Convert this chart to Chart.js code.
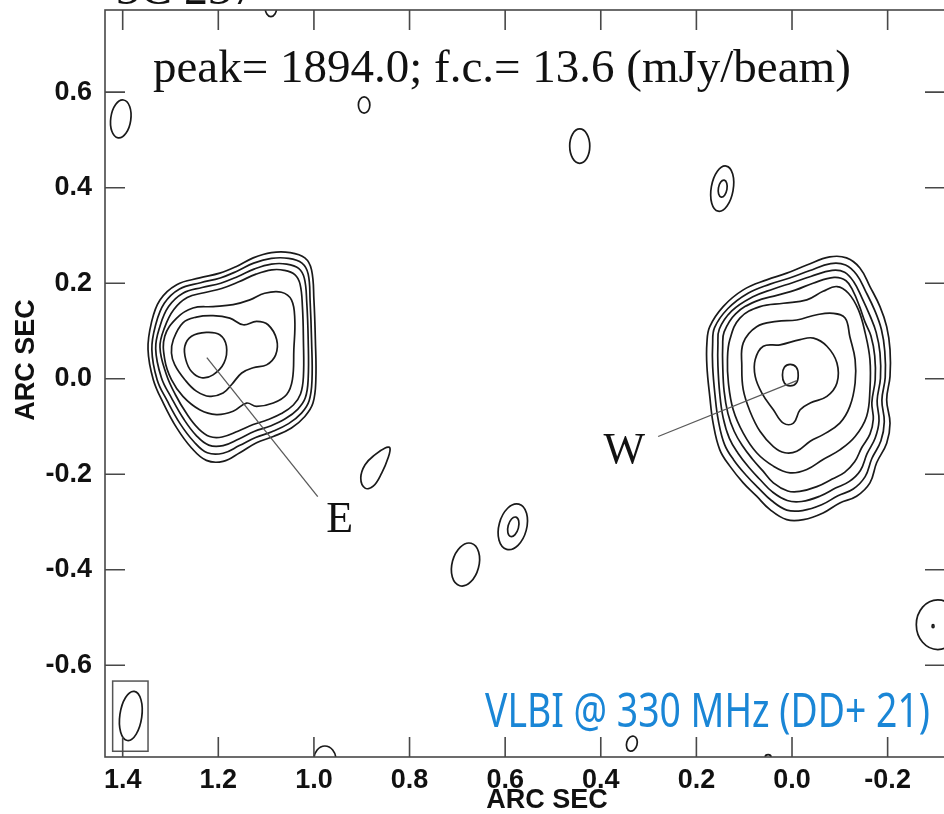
<!DOCTYPE html>
<html>
<head>
<meta charset="utf-8">
<script src="https://cdn.jsdelivr.net/npm/chart.js@4.4.1/dist/chart.umd.min.js"></script>
<style>
html, body { margin: 0; padding: 0; background: #fff; }
#wrap { width: 944px; height: 814px; overflow: hidden; }
canvas { display: block; }
</style>
</head>
<body>
<div id="wrap"><canvas id="map" width="950" height="814"></canvas></div>
<script>
// axis ranges and ticks (arc sec), RA runs right to left
const xRange = [-0.320, 1.437];
const yRange = [-0.792, 0.772];
const xTicks = [1.4, 1.2, 1.0, 0.8, 0.6, 0.4, 0.2, 0.0, -0.2];
const yTicks = [0.6, 0.4, 0.2, 0.0, -0.2, -0.4, -0.6];

// east lobe contours, lowest level first
const east1 = [[1.347,0.061],[1.340,0.117],[1.322,0.165],[1.287,0.197],[1.239,0.211],[1.197,0.221],[1.162,0.235],[1.127,0.253],[1.089,0.264],[1.050,0.264],[1.019,0.253],[1.005,0.228],[1.000,0.165],[0.997,0.082],[0.996,-0.002],[1.002,-0.051],[1.019,-0.079],[1.047,-0.103],[1.085,-0.121],[1.120,-0.134],[1.155,-0.155],[1.190,-0.173],[1.225,-0.171],[1.256,-0.145],[1.287,-0.103],[1.315,-0.051],[1.336,-0.002]];
const east2 = [[1.339,0.061],[1.331,0.113],[1.313,0.158],[1.281,0.188],[1.237,0.201],[1.196,0.211],[1.161,0.225],[1.126,0.242],[1.089,0.252],[1.053,0.252],[1.025,0.242],[1.012,0.219],[1.008,0.163],[1.005,0.082],[1.004,-0.002],[1.010,-0.046],[1.026,-0.072],[1.053,-0.094],[1.088,-0.111],[1.122,-0.123],[1.156,-0.140],[1.190,-0.156],[1.223,-0.155],[1.251,-0.132],[1.280,-0.094],[1.307,-0.046],[1.328,-0.002]];
const east3 = [[1.331,0.063],[1.322,0.110],[1.304,0.151],[1.274,0.179],[1.234,0.191],[1.195,0.200],[1.159,0.214],[1.124,0.230],[1.089,0.240],[1.057,0.240],[1.032,0.231],[1.020,0.210],[1.015,0.160],[1.012,0.082],[1.012,0.000],[1.018,-0.040],[1.034,-0.064],[1.060,-0.084],[1.091,-0.099],[1.124,-0.110],[1.157,-0.126],[1.190,-0.140],[1.220,-0.139],[1.246,-0.119],[1.272,-0.085],[1.298,-0.040],[1.319,0.002]];
const east4 = [[1.322,0.066],[1.312,0.108],[1.293,0.145],[1.265,0.170],[1.230,0.180],[1.193,0.189],[1.157,0.203],[1.121,0.219],[1.088,0.228],[1.062,0.227],[1.040,0.218],[1.029,0.198],[1.024,0.150],[1.022,0.082],[1.022,0.004],[1.028,-0.032],[1.043,-0.055],[1.068,-0.073],[1.097,-0.086],[1.127,-0.096],[1.159,-0.110],[1.192,-0.122],[1.218,-0.121],[1.242,-0.104],[1.265,-0.075],[1.290,-0.033],[1.309,0.010]];
const east5 = [[1.312,0.089],[1.287,0.127],[1.253,0.148],[1.211,0.151],[1.169,0.155],[1.134,0.165],[1.103,0.179],[1.068,0.181],[1.047,0.165],[1.040,0.124],[1.042,0.061],[1.045,-0.002],[1.057,-0.033],[1.085,-0.051],[1.120,-0.058],[1.141,-0.051],[1.169,-0.068],[1.204,-0.075],[1.239,-0.065],[1.274,-0.037],[1.298,-0.002],[1.312,0.040]];
const east6 = [[1.294,0.082],[1.274,0.117],[1.246,0.129],[1.211,0.132],[1.176,0.127],[1.148,0.113],[1.120,0.120],[1.096,0.113],[1.078,0.082],[1.080,0.050],[1.099,0.029],[1.127,0.023],[1.151,0.012],[1.172,-0.012],[1.190,-0.030],[1.218,-0.037],[1.246,-0.026],[1.270,-0.002],[1.291,0.029],[1.298,0.054]];
const east7 = [[1.270,0.068],[1.256,0.089],[1.225,0.097],[1.197,0.092],[1.183,0.068],[1.188,0.033],[1.211,0.008],[1.235,0.002],[1.256,0.015],[1.268,0.040]];

// west lobe contours, lowest level first
const west1 = [[0.172,0.109],[0.144,0.151],[0.102,0.186],[0.053,0.207],[0.011,0.221],[-0.031,0.238],[-0.079,0.255],[-0.114,0.253],[-0.142,0.232],[-0.163,0.193],[-0.184,0.151],[-0.198,0.109],[-0.205,0.061],[-0.205,0.005],[-0.198,-0.044],[-0.205,-0.093],[-0.198,-0.135],[-0.177,-0.176],[-0.163,-0.218],[-0.135,-0.246],[-0.100,-0.260],[-0.065,-0.281],[-0.024,-0.295],[0.011,-0.295],[0.046,-0.274],[0.074,-0.246],[0.102,-0.218],[0.130,-0.183],[0.151,-0.149],[0.165,-0.093],[0.172,-0.037],[0.178,0.026],[0.178,0.075]];
const west2 = [[0.162,0.107],[0.134,0.147],[0.092,0.179],[0.046,0.198],[0.005,0.211],[-0.036,0.226],[-0.081,0.241],[-0.112,0.238],[-0.135,0.218],[-0.154,0.183],[-0.173,0.143],[-0.187,0.103],[-0.194,0.058],[-0.195,0.003],[-0.188,-0.045],[-0.193,-0.090],[-0.186,-0.130],[-0.167,-0.167],[-0.153,-0.205],[-0.128,-0.231],[-0.096,-0.245],[-0.062,-0.264],[-0.022,-0.276],[0.011,-0.275],[0.043,-0.255],[0.070,-0.229],[0.096,-0.202],[0.122,-0.170],[0.141,-0.138],[0.154,-0.088],[0.161,-0.035],[0.166,0.026],[0.166,0.073]];
const west3 = [[0.152,0.104],[0.126,0.142],[0.083,0.171],[0.039,0.188],[-0.001,0.201],[-0.039,0.214],[-0.084,0.227],[-0.110,0.223],[-0.129,0.203],[-0.146,0.170],[-0.163,0.132],[-0.176,0.097],[-0.184,0.054],[-0.185,0.001],[-0.178,-0.046],[-0.182,-0.088],[-0.174,-0.124],[-0.157,-0.157],[-0.143,-0.192],[-0.120,-0.215],[-0.091,-0.229],[-0.058,-0.246],[-0.020,-0.257],[0.010,-0.255],[0.041,-0.237],[0.066,-0.212],[0.090,-0.186],[0.113,-0.156],[0.131,-0.125],[0.144,-0.082],[0.151,-0.033],[0.155,0.028],[0.155,0.071]];
const west4 = [[0.142,0.098],[0.118,0.136],[0.076,0.162],[0.030,0.175],[-0.008,0.186],[-0.044,0.200],[-0.088,0.212],[-0.113,0.205],[-0.128,0.183],[-0.141,0.152],[-0.153,0.118],[-0.165,0.090],[-0.173,0.048],[-0.174,-0.002],[-0.167,-0.050],[-0.170,-0.085],[-0.163,-0.116],[-0.146,-0.144],[-0.131,-0.174],[-0.110,-0.196],[-0.084,-0.210],[-0.052,-0.226],[-0.016,-0.236],[0.009,-0.235],[0.039,-0.218],[0.061,-0.193],[0.083,-0.168],[0.104,-0.140],[0.121,-0.110],[0.134,-0.073],[0.142,-0.026],[0.145,0.030],[0.145,0.068]];
const west5 = [[0.130,0.082],[0.109,0.127],[0.067,0.151],[0.018,0.158],[-0.031,0.165],[-0.065,0.183],[-0.094,0.193],[-0.118,0.179],[-0.139,0.144],[-0.153,0.096],[-0.163,0.040],[-0.163,-0.023],[-0.156,-0.079],[-0.132,-0.121],[-0.100,-0.149],[-0.065,-0.169],[-0.031,-0.190],[0.004,-0.197],[0.039,-0.183],[0.074,-0.155],[0.102,-0.114],[0.123,-0.065],[0.133,-0.009],[0.135,0.040]];
const west6 = [[0.102,0.075],[0.074,0.109],[0.032,0.120],[-0.010,0.123],[-0.052,0.134],[-0.086,0.137],[-0.111,0.127],[-0.121,0.088],[-0.132,0.040],[-0.132,-0.009],[-0.121,-0.058],[-0.100,-0.093],[-0.065,-0.117],[-0.038,-0.131],[-0.010,-0.152],[0.015,-0.155],[0.039,-0.142],[0.067,-0.110],[0.088,-0.068],[0.102,-0.023],[0.105,0.026]];
const west7 = [[0.077,0.040],[0.060,0.068],[0.025,0.071],[-0.017,0.082],[-0.045,0.085],[-0.073,0.068],[-0.094,0.033],[-0.094,-0.009],[-0.073,-0.037],[-0.038,-0.051],[-0.017,-0.065],[-0.003,-0.093],[0.018,-0.093],[0.039,-0.065],[0.063,-0.030],[0.077,0.005]];
const west8 = [[0.020,0.008],[0.016,0.024],[0.004,0.030],[-0.009,0.024],[-0.013,0.008],[-0.009,-0.009],[0.004,-0.015],[0.016,-0.009]];

// small teardrop between the lobes
const knot = [[0.841,-0.145],[0.845,-0.166],[0.858,-0.197],[0.876,-0.225],[0.893,-0.229],[0.902,-0.208],[0.893,-0.180],[0.872,-0.159],[0.851,-0.145]];

// isolated compact contours: [x, y, half width, half height, tilt deg]
const blobs = [
    [1.404, 0.544, 0.021, 0.040, 8],
    [0.895, 0.573, 0.012, 0.017, 0],
    [0.444, 0.487, 0.021, 0.036, 0],
    [0.146, 0.398, 0.023, 0.048, 10],
    [0.145, 0.398, 0.009, 0.018, 10],
    [1.090, 0.777, 0.012, 0.019, 0],
    [0.584, -0.310, 0.029, 0.049, 15],
    [0.583, -0.310, 0.011, 0.021, 15],
    [0.683, -0.389, 0.028, 0.046, 15],
    [-0.305, -0.515, 0.045, 0.052, 0],
    [-0.295, -0.518, 0.002, 0.003, 0],
    [0.977, -0.797, 0.023, 0.028, 0],
    [0.335, -0.764, 0.011, 0.016, 15],
    [0.050, -0.792, 0.006, 0.005, 0]
];
const beam = [1.383, -0.706, 0.023, 0.052, 8];
const beamBox = [1.421, -0.633, 1.347, -0.780];

// labels and pointers
const pointerE = [[1.224, 0.044], [0.992, -0.247]];
const pointerW = [[0.280, -0.121], [-0.010, -0.004]];

const contours = [east1, east2, east3, east4, east5, east6, east7,
    west1, west2, west3, west4, west5, west6, west7, west8, knot];

function ellipse(ctx, x, y, b) {
    const cx = x.getPixelForValue(b[0]);
    const cy = y.getPixelForValue(b[1]);
    const rx = Math.abs(x.getPixelForValue(b[0] + b[2]) - cx);
    const ry = Math.abs(y.getPixelForValue(b[1] + b[3]) - cy);
    ctx.beginPath();
    ctx.ellipse(cx, cy, rx, ry, b[4] * Math.PI / 180, 0, Math.PI * 2);
    ctx.stroke();
}

// make every contour a closed smooth loop
const closeLoops = {
    id: 'closeLoops',
    afterDatasetsUpdate(chart) {
        chart.data.datasets.forEach((ds, i) => {
            const line = chart.getDatasetMeta(i).dataset;
            if (!line) return;
            line._loop = true;
            line._fullLoop = true;
            line._pointsUpdated = false;
            line._segments = undefined;
            line._path = undefined;
            line.updateControlPoints(chart.chartArea, 'x');
        });
    }
};

const extras = {
    id: 'extras',
    afterDatasetsDraw(chart) {
        const {ctx, chartArea: a, scales: {x, y}} = chart;
        ctx.save();
        ctx.beginPath();
        ctx.rect(a.left, a.top, a.right - a.left, a.bottom - a.top);
        ctx.clip();
        ctx.strokeStyle = '#1a1a1a';
        ctx.lineWidth = 1.7;
        blobs.forEach(b => ellipse(ctx, x, y, b));
        ellipse(ctx, x, y, beam);

        ctx.strokeStyle = '#555';
        ctx.lineWidth = 1.5;
        const bx = x.getPixelForValue(beamBox[0]);
        const by = y.getPixelForValue(beamBox[1]);
        ctx.strokeRect(bx, by, x.getPixelForValue(beamBox[2]) - bx, y.getPixelForValue(beamBox[3]) - by);

        ctx.strokeStyle = '#5a5a5a';
        ctx.lineWidth = 1.3;
        [pointerE, pointerW].forEach(p => {
            ctx.beginPath();
            ctx.moveTo(x.getPixelForValue(p[0][0]), y.getPixelForValue(p[0][1]));
            ctx.lineTo(x.getPixelForValue(p[1][0]), y.getPixelForValue(p[1][1]));
            ctx.stroke();
        });
        ctx.restore();

        // frame with inward ticks on all four sides
        ctx.save();
        ctx.strokeStyle = '#484848';
        ctx.lineWidth = 1.6;
        ctx.strokeRect(a.left, a.top, a.right - a.left, a.bottom - a.top);
        ctx.beginPath();
        xTicks.forEach(v => {
            const px = x.getPixelForValue(v);
            ctx.moveTo(px, a.bottom); ctx.lineTo(px, a.bottom - 20);
            ctx.moveTo(px, a.top); ctx.lineTo(px, a.top + 20);
        });
        yTicks.forEach(v => {
            const py = y.getPixelForValue(v);
            ctx.moveTo(a.left, py); ctx.lineTo(a.left + 20, py);
            ctx.moveTo(a.right, py); ctx.lineTo(a.right - 20, py);
        });
        ctx.stroke();
        ctx.restore();
    },
    afterDraw(chart) {
        const {ctx, scales: {x, y}} = chart;
        ctx.save();
        ctx.fillStyle = '#111';
        ctx.textBaseline = 'alphabetic';
        ctx.font = '47px "Liberation Serif", "Times New Roman", serif';
        ctx.fillText('peak= 1894.0; f.c.= 13.6 (mJy/beam)', 153, 82);
        ctx.font = '48px "Liberation Serif", "Times New Roman", serif';
        ctx.fillText('3C 237', 116, 4);

        ctx.font = '44px "Liberation Serif", "Times New Roman", serif';
        ctx.textAlign = 'center';
        ctx.fillText('E', x.getPixelForValue(0.946), y.getPixelForValue(-0.289) + 15);
        ctx.fillText('W', x.getPixelForValue(0.351), y.getPixelForValue(-0.144) + 15);

        ctx.font = 'bold 27px "Liberation Sans", Arial, sans-serif';
        ctx.textBaseline = 'middle';
        ctx.fillText('ARC SEC', 547, 801);
        ctx.save();
        ctx.translate(27, 360);
        ctx.rotate(-Math.PI / 2);
        ctx.fillText('ARC SEC', 0, 0);
        ctx.restore();

        // observation tag, condensed to the reference width
        const tag = 'VLBI @ 330 MHz (DD+ 21)';
        ctx.font = '47px "Noto Sans", "Open Sans", sans-serif';
        ctx.fillStyle = '#1a86d6';
        ctx.textAlign = 'left';
        ctx.textBaseline = 'alphabetic';
        const w = ctx.measureText(tag).width;
        ctx.translate(485, 727);
        ctx.scale(445 / w, 1);
        ctx.fillText(tag, 0, 0);
        ctx.restore();
    }
};

new Chart(document.getElementById('map'), {
    type: 'scatter',
    data: {
        datasets: contours.map(c => ({
            data: c.map(p => ({x: p[0], y: p[1]})),
            showLine: true,
            borderColor: '#1a1a1a',
            borderWidth: 1.7,
            pointRadius: 0,
            tension: 0.4,
            fill: false
        }))
    },
    options: {
        responsive: false,
        devicePixelRatio: 1,
        animation: false,
        layout: {padding: {top: 10, right: 5, left: 0, bottom: 0}},
        plugins: {legend: {display: false}, tooltip: {enabled: false}},
        scales: {
            x: {
                type: 'linear',
                reverse: true,
                min: xRange[0],
                max: xRange[1],
                grid: {display: false, drawTicks: false},
                border: {display: false},
                afterBuildTicks: s => { s.ticks = xTicks.map(v => ({value: v})); },
                afterFit: s => { s.height = 57; s.paddingLeft = 0; s.paddingRight = 0; },
                ticks: {
                    autoSkip: false,
                    maxRotation: 0,
                    padding: 7,
                    color: '#111',
                    font: {family: '"Liberation Sans", Arial, sans-serif', size: 27, weight: 'bold'},
                    callback: v => v.toFixed(1)
                }
            },
            y: {
                type: 'linear',
                min: yRange[0],
                max: yRange[1],
                grid: {display: false, drawTicks: false},
                border: {display: false},
                afterBuildTicks: s => { s.ticks = yTicks.map(v => ({value: v})); },
                afterFit: s => { s.width = 105; s.paddingTop = 0; s.paddingBottom = 0; },
                ticks: {
                    autoSkip: false,
                    padding: 13,
                    color: '#111',
                    font: {family: '"Liberation Sans", Arial, sans-serif', size: 27, weight: 'bold'},
                    callback: v => v.toFixed(1)
                }
            }
        }
    },
    plugins: [closeLoops, extras]
});
</script>
</body>
</html>
